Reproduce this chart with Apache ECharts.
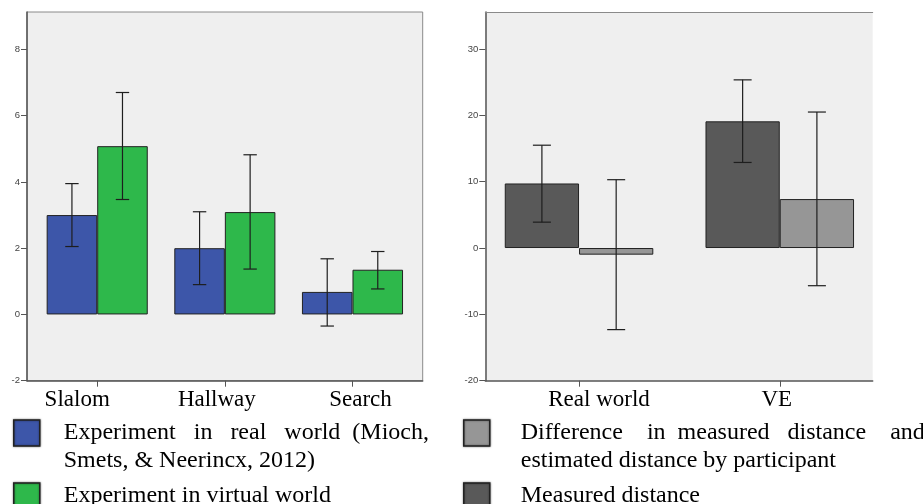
<!DOCTYPE html>
<html>
<head>
<meta charset="utf-8">
<script src="https://cdn.jsdelivr.net/npm/echarts@6/dist/echarts.min.js"></script>
<style>
  html, body { margin: 0; padding: 0; background: #ffffff; }
  #chart { width: 923px; height: 504px; }
</style>
</head>
<body>
<div id="chart"></div>
<script>
// ---------------- data ----------------
const taskCategories = ['Slalom', 'Hallway', 'Search'];
const realWorldMeans = [3.0, 2.0, 0.68];
const realWorldLow   = [2.05, 0.9, -0.35];
const realWorldHigh  = [3.95, 3.1, 1.68];
const virtualMeans   = [5.08, 3.09, 1.35];
const virtualLow     = [3.47, 1.37, 0.77];
const virtualHigh    = [6.7, 4.82, 1.9];
const leftTickValues = [-2, 0, 2, 4, 6, 8];

const envCategories  = ['Real world', 'VE'];
const measuredMeans  = [9.73, 19.1];
const measuredLow    = [3.9, 12.9];
const measuredHigh   = [15.5, 25.35];
const diffMeans      = [-1.0, 7.38];
const diffLow        = [-12.3, -5.68];
const diffHigh       = [10.3, 20.5];
const rightTickValues = [-20, -10, 0, 10, 20, 30];

const nameRealWorld = 'Experiment in real world (Mioch, Smets, & Neerincx, 2012)';
const nameVirtual   = 'Experiment in virtual world';
const nameDiff      = 'Difference in measured distance and estimated distance by participant';
const nameMeasured  = 'Measured distance';

// ---------------- styles ----------------
const cBlue = '#3d56a9', cGreen = '#2eb84b', cDark = '#595959', cLight = '#969696';
const serif = 'Liberation Serif';
const sans = 'Liberation Sans';
const leftBarFrac = 0.396;
const rightBarFrac = 0.37;

// justified-looking display text for the legend (first line of two-line items centred on the icon)
const legendText = {
  [nameRealWorld]: '\nExperiment   in   real   world  (Mioch,\nSmets, & Neerincx, 2012)',
  [nameVirtual]: 'Experiment in virtual world',
  [nameDiff]: '\nDifference    in  measured   distance    and\nestimated distance by participant',
  [nameMeasured]: 'Measured distance'
};

function toPairs(vals) { return vals.map((v, i) => [i, v]); }
function toErr(lo, hi) { return lo.map((v, i) => [i, v, hi[i]]); }

function errorRender(offsetUnits, capPx) {
  return function (params, api) {
    const x = api.value(0) + offsetUnits;
    const lo = api.coord([x, api.value(1)]);
    const hi = api.coord([x, api.value(2)]);
    const style = { stroke: '#1e1e1e', lineWidth: 1.2 };
    return {
      type: 'group',
      children: [
        { type: 'line', shape: { x1: lo[0], y1: lo[1], x2: hi[0], y2: hi[1] }, style: style },
        { type: 'line', shape: { x1: lo[0] - capPx, y1: lo[1], x2: lo[0] + capPx, y2: lo[1] }, style: style },
        { type: 'line', shape: { x1: hi[0] - capPx, y1: hi[1], x2: hi[0] + capPx, y2: hi[1] }, style: style }
      ]
    };
  };
}

function catLabel(cats, shifts) {
  const rich = {};
  cats.forEach((c, i) => {
    const s = shifts[i];
    rich['c' + i] = {
      fontFamily: serif, fontSize: 23, color: '#000',
      padding: s >= 0 ? [0, 0, 0, 2 * s] : [0, -2 * s, 0, 0]
    };
  });
  return {
    customValues: cats.map((c, i) => i),
    formatter: (v) => '{c' + Math.round(v) + '|' + cats[Math.round(v)] + '}',
    rich: rich,
    margin: 8,
    fontFamily: serif, fontSize: 23, color: '#000'
  };
}

const axisLineStyle = { color: '#555', width: 1.5 };

function legendItem(name, left, top, textPad) {
  return {
    orient: 'vertical', left: left, top: top, padding: 0,
    data: [name],
    itemWidth: 26, itemHeight: 26, icon: 'rect',
    itemStyle: { borderColor: '#222', borderWidth: 1.5, shadowBlur: 2, shadowColor: 'rgba(0,0,0,0.5)' },
    formatter: (n) => legendText[n],
    selectedMode: false,
    textStyle: { fontFamily: serif, fontSize: 24, color: '#000', lineHeight: 28, padding: [0, 0, 0, textPad] },
    itemGap: 0
  };
}

const option = {
  animation: false,
  backgroundColor: '#ffffff',
  grid: [
    { left: 27, top: 12, width: 395.7, height: 368.7, show: true, backgroundColor: '#efefef', borderColor: '#8a8a8a', borderWidth: 1 },
    { left: 485.3, top: 12, width: 387.4, height: 368.7, show: true, backgroundColor: '#efefef', borderWidth: 0 }
  ],
  xAxis: [
    {
      gridIndex: 0, type: 'value', min: -0.55, max: 2.55,
      axisLine: { onZero: false, lineStyle: axisLineStyle },
      axisTick: { customValues: [0, 1, 2], length: 6, lineStyle: { color: '#555' } },
      axisLabel: catLabel(taskCategories, [-20, -8, 8]),
      splitLine: { show: false }
    },
    {
      gridIndex: 1, type: 'value', min: -0.467, max: 1.463,
      axisLine: { onZero: false, lineStyle: axisLineStyle },
      axisTick: { customValues: [0, 1], length: 6, lineStyle: { color: '#555' } },
      axisLabel: catLabel(envCategories, [20, -3]),
      splitLine: { show: false }
    },
    {
      gridIndex: 1, type: 'value', position: 'top', min: 0, max: 1,
      axisLine: { onZero: false, lineStyle: { color: '#8a8a8a', width: 1 } },
      axisTick: { show: false }, axisLabel: { show: false }, splitLine: { show: false }
    }
  ],
  yAxis: [
    {
      gridIndex: 0, type: 'value', min: -2, max: 9.13,
      axisLine: { show: true, onZero: false, lineStyle: axisLineStyle },
      axisTick: { show: true, customValues: leftTickValues, length: 6, lineStyle: { color: '#555' } },
      axisLabel: { customValues: leftTickValues, margin: 7, fontFamily: sans, fontSize: 9.5, color: '#444' },
      splitLine: { show: false }
    },
    {
      gridIndex: 1, type: 'value', min: -20, max: 35.58,
      axisLine: { show: true, onZero: false, lineStyle: axisLineStyle },
      axisTick: { show: true, customValues: rightTickValues, length: 6, lineStyle: { color: '#555' } },
      axisLabel: { customValues: rightTickValues, margin: 7, fontFamily: sans, fontSize: 9.5, color: '#444' },
      splitLine: { show: false }
    }
  ],
  legend: [
    legendItem(nameRealWorld, 13, 391, 19),
    legendItem(nameVirtual, 13, 482, 19),
    legendItem(nameDiff, 463, 391, 26),
    legendItem(nameMeasured, 463, 482, 26)
  ],
  series: [
    {
      name: nameRealWorld, type: 'bar', xAxisIndex: 0, yAxisIndex: 0,
      data: toPairs(realWorldMeans), barWidth: (leftBarFrac * 100) + '%', barGap: '0%',
      itemStyle: { color: cBlue, borderColor: '#222', borderWidth: 1 }
    },
    {
      name: nameVirtual, type: 'bar', xAxisIndex: 0, yAxisIndex: 0,
      data: toPairs(virtualMeans), barWidth: (leftBarFrac * 100) + '%', barGap: '0%',
      itemStyle: { color: cGreen, borderColor: '#222', borderWidth: 1 }
    },
    {
      type: 'custom', xAxisIndex: 0, yAxisIndex: 0, z: 5,
      data: toErr(realWorldLow, realWorldHigh), encode: { x: 0, y: [1, 2] },
      renderItem: errorRender(-leftBarFrac / 2, 6.7)
    },
    {
      type: 'custom', xAxisIndex: 0, yAxisIndex: 0, z: 5,
      data: toErr(virtualLow, virtualHigh), encode: { x: 0, y: [1, 2] },
      renderItem: errorRender(leftBarFrac / 2, 6.7)
    },
    {
      name: nameMeasured, type: 'bar', xAxisIndex: 1, yAxisIndex: 1,
      data: toPairs(measuredMeans), barWidth: (rightBarFrac * 100) + '%', barGap: '0%',
      itemStyle: { color: cDark, borderColor: '#222', borderWidth: 1 }
    },
    {
      name: nameDiff, type: 'bar', xAxisIndex: 1, yAxisIndex: 1,
      data: toPairs(diffMeans), barWidth: (rightBarFrac * 100) + '%', barGap: '0%',
      itemStyle: { color: cLight, borderColor: '#222', borderWidth: 1 }
    },
    {
      type: 'custom', xAxisIndex: 1, yAxisIndex: 1, z: 5,
      data: toErr(measuredLow, measuredHigh), encode: { x: 0, y: [1, 2] },
      renderItem: errorRender(-rightBarFrac / 2, 9)
    },
    {
      type: 'custom', xAxisIndex: 1, yAxisIndex: 1, z: 5,
      data: toErr(diffLow, diffHigh), encode: { x: 0, y: [1, 2] },
      renderItem: errorRender(rightBarFrac / 2, 9)
    }
  ]
};

const chart = echarts.init(document.getElementById('chart'), null, { renderer: 'canvas' });
chart.setOption(option);
</script>
</body>
</html>
